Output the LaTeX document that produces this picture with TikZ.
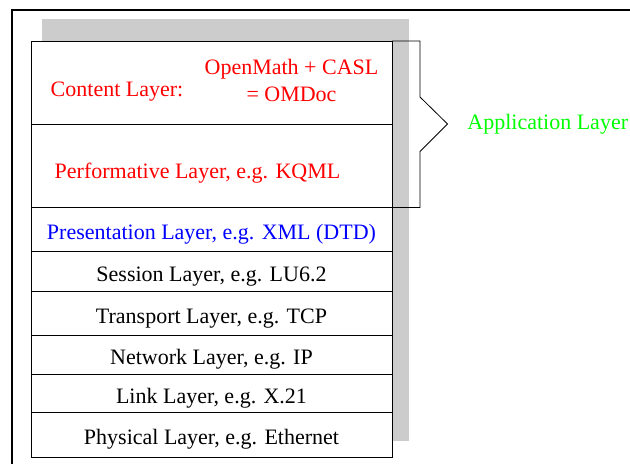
\documentclass[tikz,border=0pt]{standalone}
\usepackage{fontspec}
\setmainfont{Liberation Serif}
\usetikzlibrary{positioning}
\definecolor{shadowgray}{HTML}{CCCCCC}

\begin{document}
\begin{tikzpicture}[
  x=0.5pt, y=-0.5pt,
  every node/.style={font=\rmfamily\fontsize{11}{13.5}\selectfont},
  layer/.style={rectangle, draw, fill=white, inner sep=0pt, outer sep=0pt,
    minimum width=180.5pt, text height=12pt, text depth=2pt},
  toplayer/.style={text=red},
  midlayer/.style={text=blue},
  applabel/.style={text=green, inner sep=0pt},
]
\useasboundingbox (0,0) rectangle (630,464);

% Frame and shadow
\draw[line width=1pt] (11.5,464) -- (11.5,10.5) -- (630,10.5);
\fill[shadowgray] (42,19) rectangle (409,441);

% Layer stack
\node[layer, minimum height=41.5pt, anchor=north] (content) at (211.5,41) {};
\node[layer, minimum height=41.75pt, below=0pt of content] (perf) {};
\node[layer, midlayer, minimum height=22pt, below=0pt of perf] (pres) {Presentation Layer, e.g. XML (DTD)};
\node[layer, minimum height=19.75pt, below=0pt of pres] (sess) {Session Layer, e.g. LU6.2};
\node[layer, minimum height=22pt, below=0pt of sess] (trans) {Transport Layer, e.g. TCP};
\node[layer, minimum height=19.75pt, below=0pt of trans] (net) {Network Layer, e.g. IP};
\node[layer, minimum height=19pt, below=0pt of net] (link) {Link Layer, e.g. X.21};
\node[layer, minimum height=22.25pt, below=0pt of link] (phys) {Physical Layer, e.g. Ethernet};

% Texts of the upper layers
\node[toplayer, inner sep=0pt, anchor=base] (cname) at (117,97) {Content Layer:};
\node[toplayer, inner sep=0pt, align=center] (cform) at (291.5,80) {OpenMath + CASL\\= OMDoc};
\node[toplayer, inner sep=0pt, anchor=base] (pname) at (197.5,179) {Performative Layer, e.g. KQML};

% Application bracket
\coordinate (tip) at (447.5,124);
\draw (content.north east) -- (420,41) -- (420,97) -- (tip) -- (420,151.5) -- (420,207.5) -- (perf.south east);
\node[applabel, anchor=base west] (app) at (467,130) {Application Layer};
\end{tikzpicture}
\end{document}
